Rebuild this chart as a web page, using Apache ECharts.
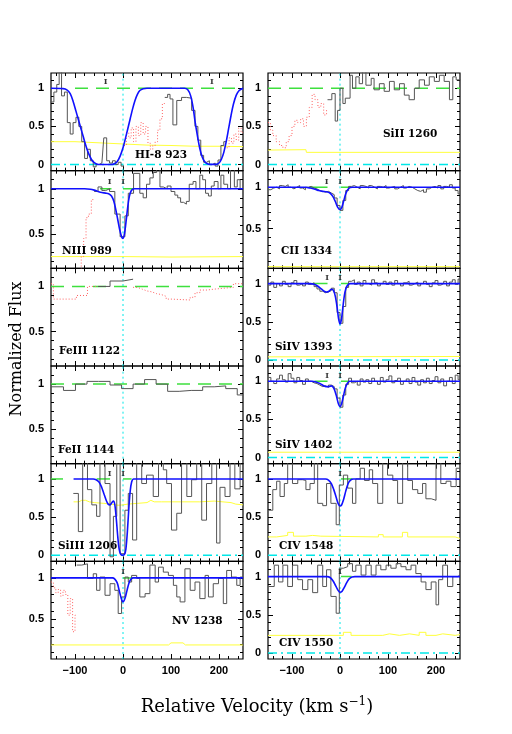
<!DOCTYPE html>
<html><head><meta charset="utf-8">
<script src="https://cdn.jsdelivr.net/npm/echarts@6/dist/echarts.min.js"></script>
<style>html,body{margin:0;padding:0;background:#fff}#c{width:512px;height:734px}</style>
</head><body><div id="c"></div>
<script>
// ---------------- DATA ----------------
const VMIN = -150, VMAX = 250;
const xMajor = [-100, 0, 100, 200];
const xMinor = [-140, -120, -80, -60, -40, -20, 20, 40, 60, 80, 120, 140, 160, 180, 220, 240];
const yMajor = [0, 0.5, 1];
const yMinor = [0.1, 0.2, 0.3, 0.4, 0.6, 0.7, 0.8, 0.9, 1.1];
const panelNames = ['HI-8 923', 'NIII 989', 'FeIII 1122', 'FeII 1144', 'SiIII 1206', 'NV 1238',
                    'SiII 1260', 'CII 1334', 'SiIV 1393', 'SiIV 1402', 'CIV 1548', 'CIV 1550'];
const yRanges = [[-0.08, 1.2], [0.12, 1.2], [0.12, 1.2], [0.12, 1.2], [-0.08, 1.2], [0.02, 1.2],
                 [-0.08, 1.2], [0.02, 1.2], [-0.08, 1.2], [-0.08, 1.2], [-0.08, 1.2], [-0.08, 1.2]];

// HI-8 923
const hiGrayV1 = [-150,-144,-138,-133,-128,-122,-116,-110,-104,-98,-92,-86,-80,-74,-68,-62,-56,-50,-44,-40,-34,-28,-22,-16,-10,-4,2];
const hiGrayF1 = [0.82,0.95,1.05,1.25,0.9,0.95,0.55,0.4,0.55,0.62,0.5,0.3,0.08,0.2,0.05,-0.03,0.0,0.02,0.02,0.35,0.05,0.02,0.05,0.0,0.03,-0.02];
const hiRedV1 = [2,7,12,17,22,27,32,37,42,47,52,57,62,67,72,77,82,87];
const hiRedF1 = [0.25,0.42,0.35,0.48,0.3,0.5,0.38,0.55,0.4,0.5,0.28,0.2,0.25,0.3,0.45,0.6,0.8];
const hiGrayV2 = [87,93,98,104,112,122,132,143,150,156,162,168,174,180,186,192,198,204,210,216];
const hiGrayF2 = [0.88,0.92,0.86,0.52,0.84,0.88,0.87,0.71,0.5,0.32,0.12,0.03,0.05,0.0,0.02,-0.02,0.06,0.25,0.3];
const hiRedV2 = [216,221,226,231,236,241,246,250];
const hiRedF2 = [0.22,0.35,0.28,0.4,0.32,0.48,0.42];
const hiFit = [[-150,1],[-125,0.995],[-117,0.98],[-110,0.93],[-104,0.83],[-98,0.7],[-93,0.59],[-88,0.48],[-83,0.37],[-78,0.26],[-72,0.15],[-66,0.07],[-60,0.025],[-54,0.005],[-45,0],[-25,0],[-18,0.01],[-12,0.04],[-6,0.11],[0,0.22],[5,0.34],[10,0.47],[15,0.6],[20,0.73],[25,0.84],[30,0.92],[35,0.97],[42,0.995],[50,1],[128,1],[135,0.98],[141,0.9],[146,0.75],[150,0.57],[155,0.38],[160,0.21],[165,0.1],[170,0.04],[176,0.01],[182,0.002],[194,0.002],[200,0.02],[205,0.07],[210,0.16],[215,0.3],[220,0.47],[225,0.64],[230,0.79],[236,0.91],[242,0.97],[250,1]];
const hiErr = [[-150,0.30],[-100,0.30],[-50,0.285],[0,0.27],[50,0.255],[100,0.25],[150,0.24],[200,0.24],[250,0.235]];
const hiComps = [-36, 185];

// NIII 989
const niiiGrayV = [-60,-52,-44,-36,-28,-17,-6,4,11,22,35,42,49,56,63,70,77,84,92,100,108,114,120,126,132,138,146,152,160,166,172,178,184,190,198,204,210,218,224,232,238,244,250];
const niiiGrayF = [0.97,1.02,0.98,1.0,0.97,0.72,0.47,0.7,0.95,1.17,0.95,0.9,1.05,1.12,1.18,1.22,1.02,1.0,1.03,0.97,0.93,0.9,0.85,0.83,0.86,1.05,1.08,1.0,1.15,1.1,0.95,0.92,1.03,1.08,1.0,1.15,1.05,1.0,1.22,1.02,1.1,1.0];
const niiiRedV = [-92,-87,-82,-77,-72,-66,-60];
const niiiRedF = [0.1,0.25,0.45,0.68,0.72,0.88];
const niiiFit = [[-150,1],[-80,1],[-68,0.995],[-60,0.985],[-52,0.97],[-44,0.958],[-36,0.952],[-30,0.945],[-24,0.92],[-19,0.86],[-15,0.77],[-11,0.66],[-7,0.55],[-3,0.47],[0,0.45],[3,0.5],[6,0.62],[9,0.76],[12,0.88],[15,0.95],[19,0.99],[24,1],[250,1]];
const niiiErr = [[-150,0.25],[0,0.25],[100,0.245],[250,0.25]];
const niiiComps = [-28, 0];

// FeIII 1122
const feiiiGrayV = [-52,-27,0,21];
const feiiiGrayF = [1.0,1.06,1.08];
const feiiiRedV1 = [-150,-145,-121,-97,-74,-52];
const feiiiRedF1 = [1.03,0.86,0.86,0.9,1.0];
const feiiiRedV2 = [21,30,40,50,60,70,80,90,100,140,150,160,175,190,210,230,250];
const feiiiRedF2 = [0.99,0.97,0.95,0.94,0.92,0.91,0.89,0.86,0.85,0.88,0.93,0.96,0.97,0.98,0.99,1.03];

// FeII 1144
const feiiGrayV = [-150,-124,-99,-75,-51,-27,-3,21,45,69,93,117,142,166,190,214,238,250];
const feiiGrayF = [0.97,0.93,1.0,1.03,1.03,0.99,0.95,1.0,1.05,1.0,0.92,0.93,0.93,0.97,0.98,0.95,0.88];

// SiIII 1206
const siiiiGrayV = [-103.5,-93,-84,-74,-65,-55,-48,-37.5,-27,-20,-13,-6,4,11,20,28.5,39,49,63,74,84,91,101,112,122,133,143,153.5,164,174,185,195,202,212.5,223,233,244,250];
const siiiiGrayF = [0.81,0.31,1.25,0.86,0.66,0.51,1.25,0.94,-0.02,0.51,1.25,0.02,0.59,0.81,0.2,1.25,0.94,1.05,0.77,1.25,1.12,0.94,0.33,0.55,1.25,0.77,0.99,1.25,0.46,0.94,1.25,0.16,0.89,0.77,1.25,0.87,1.25];
const siiiiFit = [[-103,1],[-62,1],[-56,0.99],[-50,0.96],[-45,0.9],[-40,0.81],[-35,0.72],[-31,0.67],[-27,0.66],[-23,0.69],[-20,0.71],[-17,0.66],[-14,0.48],[-11,0.25],[-8,0.08],[-5,0.015],[-1,0],[3,0.01],[6,0.08],[9,0.3],[12,0.6],[15,0.84],[18,0.96],[22,1],[250,1]];
const siiiiErr = [[-103,0.70],[-92,0.70],[-86,0.72],[-82,0.74],[-78,0.72],[-70,0.7],[-60,0.69],[-40,0.68],[-25,0.67],[-10,0.655],[0,0.66],[10,0.67],[30,0.68],[50,0.69],[58,0.72],[65,0.7],[80,0.7],[120,0.7],[160,0.7],[190,0.71],[225,0.69],[235,0.67],[250,0.66]];
const siiiiComps = [-28, 0];

// NV 1238
const nvGrayV = [-96.5,-86,-74,-62,-55,-48,-37.5,-27,-17,-10,-3,4,11,18,28.5,35,46,56,67,74,84,94.5,105,112,119,129,140,150,160,171,178,188,199,209,216,226,237,244,250];
const nvGrayF = [1.155,1.17,0.995,1.05,0.85,1.01,0.79,0.93,0.85,0.57,0.77,1.01,0.95,1.03,0.995,0.77,0.81,1.155,0.95,1.13,1.07,1.03,0.91,0.77,0.71,1.11,0.85,0.95,0.75,1.03,0.77,0.93,0.995,0.69,1.09,1.01,0.91,1.01];
const nvRedV = [-150,-145,-140,-135,-130,-125,-120,-115,-110,-105,-100,-96.5];
const nvRedF = [0.95,0.88,0.82,0.86,0.78,0.85,0.8,0.55,0.75,0.35,0.55];
const nvFit = [[-150,1],[-22,1],[-17,0.985],[-12,0.94],[-8,0.85],[-4,0.76],[0,0.71],[4,0.75],[8,0.84],[12,0.93],[16,0.98],[21,1],[250,1]];
const nvErr = [[-150,0.19],[95,0.19],[100,0.215],[125,0.215],[130,0.19],[250,0.19]];
const nvComps = [0];

// SiII 1260
const siiRedV = [-150,-145,-140,-133,-126,-119,-112,-106,-100,-94,-88,-82,-76,-70,-64,-58,-52,-46,-40,-34,-28,-26];
const siiRedF = [0.55,0.45,0.38,0.3,0.25,0.22,0.3,0.38,0.5,0.58,0.55,0.6,0.5,0.62,0.75,0.92,0.85,0.75,0.8,0.65,0.72];
const siiGrayV = [-26,-17,-10,-5,0,6,11,21,26,33,40,47,54,65,71,82,92,103,113,124,134,144,155,165,176,186,196.5,207,217,228,235,242,251];
const siiGrayF = [0.85,0.93,0.57,0.71,1.0,0.8,0.87,1.17,1.0,1.15,1.06,1.22,1.04,1.13,0.98,1.06,0.96,1.09,0.98,1.06,0.91,0.85,1.0,1.11,1.04,1.15,1.09,1.17,1.09,0.85,1.15,1.11];
const siiErr = [[-150,0.19],[-71,0.195],[-70,0.16],[250,0.16]];

// CII 1334 (6 km/s bins from -150)
const ciiGrayF = [0.97,0.99,1.0,0.98,1.02,1.01,1.03,1.0,0.98,1.0,1.02,0.99,0.97,1.0,1.01,0.99,0.98,0.96,0.95,0.94,0.95,0.93,0.91,0.87,0.78,0.72,0.84,0.96,1.01,1.02,1.0,0.98,1.02,1.01,0.99,1.02,1.0,0.98,1.01,1.0,1.02,0.99,1.0,1.01,0.98,1.0,1.02,0.99,1.01,1.0,0.98,0.96,0.95,0.97,0.94,0.98,1.0,1.01,0.99,1.02,0.98,1.01,1.0,1.03,0.99,0.96,0.92];
const ciiFit = [[-150,1],[-72,1],[-62,0.99],[-52,0.975],[-44,0.96],[-36,0.95],[-28,0.945],[-21,0.93],[-15,0.89],[-10,0.83],[-5,0.76],[0,0.73],[4,0.76],[8,0.84],[12,0.92],[16,0.97],[21,0.995],[26,1],[250,1]];
const ciiErr = [[-150,0.04],[250,0.04]];
const ciiComps = [-28, 0];

// SiIV 1393 (6 km/s bins from -150)
const siiv1GrayF = [0.98,1.02,0.95,1.0,0.97,1.03,0.99,0.96,1.01,1.04,0.98,1.0,0.97,1.02,0.99,1.01,0.96,0.93,0.9,0.88,0.89,0.91,0.94,0.88,0.62,0.48,0.7,0.95,1.03,1.05,0.99,1.02,0.97,1.04,1.0,0.98,1.05,1.01,0.97,1.0,1.03,0.99,1.02,0.98,1.04,1.0,0.97,1.01,1.03,0.98,1.0,1.02,0.97,1.0,1.03,0.99,0.96,1.01,1.04,0.98,1.0,1.03,0.97,1.02,1.05,0.99,1.06];
const siiv1Fit = [[-150,1],[-62,1],[-54,0.99],[-46,0.965],[-39,0.93],[-33,0.9],[-28,0.89],[-23,0.9],[-18,0.925],[-14,0.915],[-10,0.84],[-6,0.69],[-3,0.54],[0,0.47],[3,0.53],[6,0.69],[9,0.84],[12,0.93],[16,0.98],[21,1],[250,1]];
const siiv1Err = [[-150,0.04],[250,0.045]];
const siiv1Comps = [-27, 0];

// SiIV 1402 (6 km/s bins from -150)
const siiv2GrayF = [1.05,1.0,0.97,1.03,1.08,1.02,0.99,1.1,1.04,0.98,1.05,1.01,0.96,1.03,1.0,0.98,0.97,0.95,0.93,0.94,0.92,0.95,0.93,0.9,0.78,0.66,0.82,0.96,1.04,0.98,1.0,0.95,1.03,0.99,1.02,0.97,1.04,1.0,0.96,1.05,0.99,1.02,1.07,0.98,1.01,1.04,0.96,1.0,1.03,0.97,1.05,0.99,0.95,1.02,0.98,1.04,0.97,1.01,1.06,0.98,1.03,0.94,1.0,1.05,0.97,1.08,1.02];
const siiv2Fit = [[-150,1],[-58,1],[-50,0.99],[-42,0.97],[-35,0.945],[-29,0.93],[-23,0.93],[-18,0.94],[-13,0.91],[-8,0.82],[-4,0.72],[0,0.67],[3,0.7],[7,0.8],[11,0.91],[15,0.97],[20,1],[250,1]];
const siiv2Err = [[-150,0.07],[250,0.07]];
const siiv2Comps = [-27, 0];

// CIV 1548
const civ1GrayV = [-150,-140,-132,-125,-116,-109,-99,-88,-78,-71,-62.5,-53.5,-46.5,-36,-28,-19,-8,-1.4,7,16,26,33,42,51,61,68,78.5,89,99,110,120,130.5,141,151,162,172,179,190,200,210,221,231,242,250];
const civ1GrayF = [0.59,0.86,0.97,0.77,0.94,1.25,0.94,0.99,0.98,0.86,0.94,1.25,0.68,0.65,0.94,0.68,0.40,0.92,1.05,0.88,0.68,1.0,1.14,0.98,1.12,0.94,0.68,1.25,1.05,0.98,0.68,1.25,0.98,0.86,0.81,0.94,0.74,0.72,1.25,0.94,0.97,0.9,1.14];
const civ1ErrV = [-150,-132,-109,-97,-71,-57,-40,80,90,130,141,240,250];
const civ1ErrF = [0.24,0.26,0.3,0.25,0.26,0.25,0.24,0.27,0.24,0.3,0.24,0.22];
const civ1Fit = [[-150,1],[-30,1],[-24,0.985],[-18,0.94],[-13,0.86],[-8,0.76],[-4,0.68],[0,0.645],[3,0.655],[7,0.72],[12,0.84],[17,0.94],[22,0.985],[28,1],[250,1]];
const civ1Comps = [0];

// CIV 1550
const civ2GrayV = [-150,-137,-128,-119,-109,-99,-88,-78,-67,-57,-46.5,-36,-28,-19,-8,-1.4,7,16,26,33,44,54,65,75,85,96,106,117,127,137.5,148,158,169,179,190,200,205.5,214,224,235,245,250];
const civ2GrayF = [0.87,1.15,0.93,1.15,0.87,1.15,0.96,0.83,0.96,0.79,1.15,0.87,1.09,0.74,0.52,1.11,1.13,1.17,1.07,1.15,1.02,1.15,1.02,1.15,1.09,1.15,1.11,1.17,1.13,1.09,1.15,1.04,0.93,0.83,0.93,0.63,0.96,1.15,0.87,1.0,1.02];
const civ2ErrV = [-150,7,23,89,103,124,145,165,179,200,214,240,250];
const civ2ErrF = [0.23,0.27,0.23,0.25,0.23,0.25,0.23,0.27,0.23,0.25,0.23,0.24];
const civ2Fit = [[-150,1],[-27,1],[-20,0.985],[-14,0.94],[-9,0.88],[-4,0.82],[0,0.795],[4,0.805],[9,0.86],[14,0.92],[19,0.97],[25,0.995],[31,1],[250,1]];
const civ2Comps = [0];

// green continuum marks: dashed spans and short segments (velocity ranges)
const greenDash = {0: [-100, 250], 2: [-150, 250], 3: [-150, 250], 6: [-150, 250]};
const greenSegs = {1: [[-48,-24],[0,21]], 4: [[-150,-125],[-55,-27],[0,18]], 5: [[0,21]],
                   7: [[-64,-26],[2,23]], 8: [[-57,-26],[2,19]], 9: [[-53,-26],[2,19]],
                   10: [[2,26]], 11: [[2,24]]};

// ---------------- BUILD ----------------
function stepData(edges, vals) {
  const d = vals.map((f, i) => [edges[i], f]);
  d.push([edges[edges.length - 1], vals[vals.length - 1]]);
  return d;
}
function regularEdges(start, width, n) {
  const e = [];
  for (let i = 0; i <= n; i++) e.push(Math.min(start + i * width, VMAX));
  return e;
}

const panels = [
  {gray: [[hiGrayV1, hiGrayF1], [hiGrayV2, hiGrayF2]], red: [[hiRedV1, hiRedF1], [hiRedV2, hiRedF2]], fit: hiFit, err: hiErr, comps: hiComps, compY: 1.08},
  {gray: [[niiiGrayV, niiiGrayF]], red: [[niiiRedV, niiiRedF]], fit: niiiFit, err: niiiErr, comps: niiiComps, compY: 1.08},
  {gray: [[feiiiGrayV, feiiiGrayF]], red: [[feiiiRedV1, feiiiRedF1], [feiiiRedV2, feiiiRedF2]]},
  {gray: [[feiiGrayV, feiiGrayF]], red: []},
  {gray: [[siiiiGrayV, siiiiGrayF]], red: [], fit: siiiiFit, err: siiiiErr, comps: siiiiComps, compY: 1.065},
  {gray: [[nvGrayV, nvGrayF]], red: [[nvRedV, nvRedF]], fit: nvFit, err: nvErr, comps: nvComps, compY: 1.07},
  {gray: [[siiGrayV, siiGrayF]], red: [[siiRedV, siiRedF]], err: siiErr},
  {gray: [[regularEdges(-150, 6, ciiGrayF.length), ciiGrayF]], red: [], fit: ciiFit, err: ciiErr, comps: ciiComps, compY: 1.07},
  {gray: [[regularEdges(-150, 6, siiv1GrayF.length), siiv1GrayF]], red: [], fit: siiv1Fit, err: siiv1Err, comps: siiv1Comps, compY: 1.07},
  {gray: [[regularEdges(-150, 6, siiv2GrayF.length), siiv2GrayF]], red: [], fit: siiv2Fit, err: siiv2Err, comps: siiv2Comps, compY: 1.07},
  {gray: [[civ1GrayV, civ1GrayF]], red: [], fit: civ1Fit, errStep: [civ1ErrV, civ1ErrF], comps: civ1Comps, compY: 1.07},
  {gray: [[civ2GrayV, civ2GrayF]], red: [], fit: civ2Fit, errStep: [civ2ErrV, civ2ErrF], comps: civ2Comps, compY: 1.06}
];

const COLS = [51, 268], W = 192, TOP = 73, H = 97.67;
const labelPos = [[135,157],[62,253],[59,353],[58,452],[58,548],[172,623],
                  [383,136],[281,253],[275,349],[275,447],[279,548],[279,645]];

const grids = [], xAxes = [], yAxes = [], series = [], graphics = [];
const tickFont = {color: '#000', fontFamily: 'Liberation Sans', fontWeight: 'bold', fontSize: 11};
const fmtX = v => (v < 0 ? '\u2212' + (-v) : '' + v);
const fmtY = v => (v === 0.5 ? '0.5' : '' + v);

panels.forEach((P, i) => {
  const col = i < 6 ? 0 : 1, row = i % 6;
  const [ymin, ymax] = yRanges[i];
  grids.push({left: COLS[col], top: TOP + row * H, width: W, height: H, show: true,
              borderColor: '#000', borderWidth: 1.2, backgroundColor: 'transparent', outerBoundsMode: 'none'});
  const xb = {type: 'value', gridIndex: i, min: VMIN, max: VMAX, axisLine: {show: false, onZero: false},
              splitLine: {show: false}, axisPointer: {show: false}};
  const tickStyle = {color: '#000', width: 1};
  xAxes.push(Object.assign({}, xb, {position: 'bottom',
    axisTick: {show: true, inside: true, length: 5, customValues: xMajor, lineStyle: tickStyle},
    axisLabel: Object.assign({show: row === 5, customValues: xMajor, formatter: fmtX, margin: 6}, tickFont)}));
  xAxes.push(Object.assign({}, xb, {position: 'bottom',
    axisTick: {show: true, inside: true, length: 3, customValues: xMinor, lineStyle: tickStyle}, axisLabel: {show: false}}));
  xAxes.push(Object.assign({}, xb, {position: 'top',
    axisTick: {show: true, inside: true, length: 5, customValues: xMajor, lineStyle: tickStyle}, axisLabel: {show: false}}));
  xAxes.push(Object.assign({}, xb, {position: 'top',
    axisTick: {show: true, inside: true, length: 3, customValues: xMinor, lineStyle: tickStyle}, axisLabel: {show: false}}));
  const yMaj = yMajor.filter(v => v > ymin && v < ymax);
  const yMin = yMinor.filter(v => v > ymin && v < ymax);
  const yb = {type: 'value', gridIndex: i, min: ymin, max: ymax, axisLine: {show: false, onZero: false},
              splitLine: {show: false}, axisPointer: {show: false}};
  yAxes.push(Object.assign({}, yb, {position: 'left',
    axisTick: {show: true, inside: true, length: 5, customValues: yMaj, lineStyle: tickStyle},
    axisLabel: Object.assign({show: true, customValues: yMaj, formatter: fmtY, margin: 7}, tickFont)}));
  yAxes.push(Object.assign({}, yb, {position: 'left',
    axisTick: {show: true, inside: true, length: 3, customValues: yMin, lineStyle: tickStyle}, axisLabel: {show: false}}));
  yAxes.push(Object.assign({}, yb, {position: 'right',
    axisTick: {show: true, inside: true, length: 5, customValues: yMaj, lineStyle: tickStyle}, axisLabel: {show: false}}));
  yAxes.push(Object.assign({}, yb, {position: 'right',
    axisTick: {show: true, inside: true, length: 3, customValues: yMin, lineStyle: tickStyle}, axisLabel: {show: false}}));

  const ax = {xAxisIndex: 4 * i, yAxisIndex: 4 * i, symbol: 'none', silent: true, animation: false};
  if (ymin < 0) series.push(Object.assign({}, ax, {type: 'line', z: 2, data: [[VMIN, 0], [VMAX, 0]],
    lineStyle: {color: '#00e8e8', width: 1.5, type: [9, 4, 2, 4]}}));
  series.push(Object.assign({}, ax, {type: 'line', z: 2, data: [[0, ymin], [0, ymax]],
    lineStyle: {color: '#00e8e8', width: 1, type: [2, 3]}}));
  if (P.err) series.push(Object.assign({}, ax, {type: 'line', z: 3, data: P.err,
    lineStyle: {color: '#ffff3a', width: 1}}));
  if (P.errStep) series.push(Object.assign({}, ax, {type: 'line', z: 3, step: 'end',
    data: stepData(P.errStep[0], P.errStep[1]), lineStyle: {color: '#ffff3a', width: 1}}));
  if (greenDash[i]) series.push(Object.assign({}, ax, {type: 'line', z: 4,
    data: [[greenDash[i][0], 1], [greenDash[i][1], 1]], lineStyle: {color: '#3ee03e', width: 1.5, type: [13, 8]}}));
  if (greenSegs[i]) greenSegs[i].forEach(s => series.push(Object.assign({}, ax, {type: 'line', z: 4,
    data: [[s[0], 1], [s[1], 1]], lineStyle: {color: '#3ee03e', width: 1.5}})));
  P.gray.forEach(g => series.push(Object.assign({}, ax, {type: 'line', z: 5, step: 'end',
    data: stepData(g[0], g[1]), lineStyle: {color: '#555', width: 1}})));
  P.red.forEach(g => series.push(Object.assign({}, ax, {type: 'line', z: 5, step: 'end',
    data: stepData(g[0], g[1]), lineStyle: {color: '#ff6060', width: 1, type: [1, 2]}})));
  if (P.fit) series.push(Object.assign({}, ax, {type: 'line', z: 6, smooth: 0.3, data: P.fit,
    lineStyle: {color: '#1010ff', width: 1.6}}));
  if (P.comps) series.push(Object.assign({}, ax, {type: 'scatter', z: 7, symbol: 'circle', symbolSize: 1,
    itemStyle: {color: 'transparent'}, data: P.comps.map(v => [v, P.compY]),
    label: {show: true, position: 'inside', formatter: 'I', color: '#000', fontFamily: 'DejaVu Serif',
            fontWeight: 'bold', fontSize: 8}}));
  graphics.push({type: 'text', left: labelPos[i][0], top: labelPos[i][1] - 7, z: 10,
    style: {text: panelNames[i], fill: '#000', font: 'bold 10.5px "DejaVu Serif"'}});
});

graphics.push({type: 'text', x: 17, y: 349, rotation: Math.PI / 2, z: 10,
  style: {text: 'Normalized Flux', fill: '#000', font: '16px "DejaVu Serif"', align: 'center', verticalAlign: 'middle'}});
graphics.push({type: 'text', x: 257, y: 707, z: 10,
  style: {text: '{a|Relative Velocity (km s}{b|\u22121}{a|)}', align: 'center', verticalAlign: 'middle',
    rich: {a: {fontFamily: 'DejaVu Serif', fontSize: 18, fill: '#000', color: '#000'},
           b: {fontFamily: 'DejaVu Serif', fontSize: 12, fill: '#000', color: '#000', verticalAlign: 'top', padding: [0, 0, 10, 0]}}}});

const chart = echarts.init(document.getElementById('c'), null, {renderer: 'canvas'});
chart.setOption({animation: false, backgroundColor: '#fff', grid: grids, xAxis: xAxes, yAxis: yAxes,
                 series: series, graphic: graphics});
</script></body></html>
